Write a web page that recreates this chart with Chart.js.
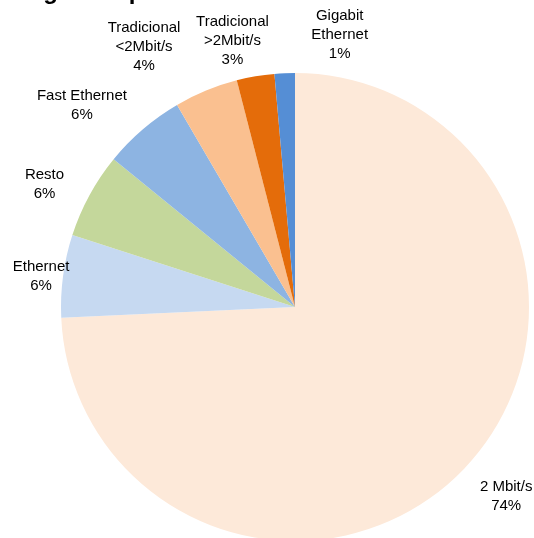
<!DOCTYPE html>
<html>
<head>
<meta charset="utf-8">
<script src="https://cdn.jsdelivr.net/npm/chart.js@4"></script>
<style>
  html, body { margin: 0; padding: 0; background: #fff; overflow: hidden; }
  #wrap { position: relative; width: 534px; height: 538px; overflow: hidden; }
</style>
</head>
<body>
<div id="wrap"><canvas id="pie" width="534" height="560"></canvas></div>
<script>
'use strict';

// ─── Data ─────────────────────────────────────────────────────────────────────
const TITLE      = 'Ingresos por velocidad';
const CATEGORIES = ['2 Mbit/s', 'Ethernet', 'Resto', 'Fast Ethernet',
                    'Tradicional\n<2Mbit/s', 'Tradicional\n>2Mbit/s', 'Gigabit\nEthernet'];
const SHARES     = [74.2, 5.7, 5.9, 5.7, 4.4, 2.6, 1.4];
const COLORS     = ['#FDE9D9', '#C6D9F1', '#C4D79B', '#8DB4E2', '#FAC090', '#E46C0A', '#558ED5'];

// label block offsets (px) from the slice's outer mid point, Excel "best fit" look
const LABEL_OFFSETS = [[42, 28], [-22, 1], [-45, -11], [-61, -24], [-62, -44], [-23, -36], [55, -38]];

const LABEL_FONT = '15px "Liberation Sans", Arial, sans-serif';
const LINE_H     = 19;

// ─── Plugins ──────────────────────────────────────────────────────────────────
const clippedTitle = {
  id: 'clippedTitle',
  afterDraw(chart) {
    const ctx = chart.ctx;
    ctx.save();
    ctx.font = 'bold 24px "Liberation Sans", Arial, sans-serif';
    ctx.fillStyle = '#000';
    ctx.textAlign = 'left';
    ctx.textBaseline = 'alphabetic';
    ctx.fillText(TITLE, 22, -1);
    ctx.restore();
  },
};

const outsideLabels = {
  id: 'outsideLabels',
  afterDatasetsDraw(chart) {
    const ctx   = chart.ctx;
    const meta  = chart.getDatasetMeta(0);
    const total = SHARES.reduce((a, b) => a + b, 0);
    ctx.save();
    ctx.font = LABEL_FONT;
    ctx.fillStyle = '#000';
    ctx.textAlign = 'center';
    ctx.textBaseline = 'middle';
    meta.data.forEach((arc, i) => {
      const p   = arc.getProps(['x', 'y', 'startAngle', 'endAngle', 'outerRadius'], true);
      const mid = (p.startAngle + p.endAngle) / 2;
      const ox  = p.x + Math.cos(mid) * p.outerRadius;
      const oy  = p.y + Math.sin(mid) * p.outerRadius;
      const lines = CATEGORIES[i].split('\n');
      lines.push(Math.round(SHARES[i] / total * 100) + '%');
      const cx = ox + LABEL_OFFSETS[i][0];
      const cy = oy + LABEL_OFFSETS[i][1];
      const top = cy - (lines.length - 1) * LINE_H / 2;
      lines.forEach((t, k) => ctx.fillText(t, cx, top + k * LINE_H));
    });
    ctx.restore();
  },
};

// ─── Chart ────────────────────────────────────────────────────────────────────
new Chart(document.getElementById('pie').getContext('2d'), {
  type: 'pie',
  data: {
    labels: CATEGORIES,
    datasets: [{
      data:            SHARES,
      backgroundColor: COLORS,
      borderWidth:     0,
    }],
  },
  options: {
    responsive:       false,
    devicePixelRatio: 1,
    animation:        false,
    layout: { padding: { left: 61, right: 5, top: 73, bottom: 19 } },
    plugins: {
      legend:  { display: false },
      tooltip: { enabled: false },
    },
  },
  plugins: [outsideLabels, clippedTitle],
});
</script>
</body>
</html>
